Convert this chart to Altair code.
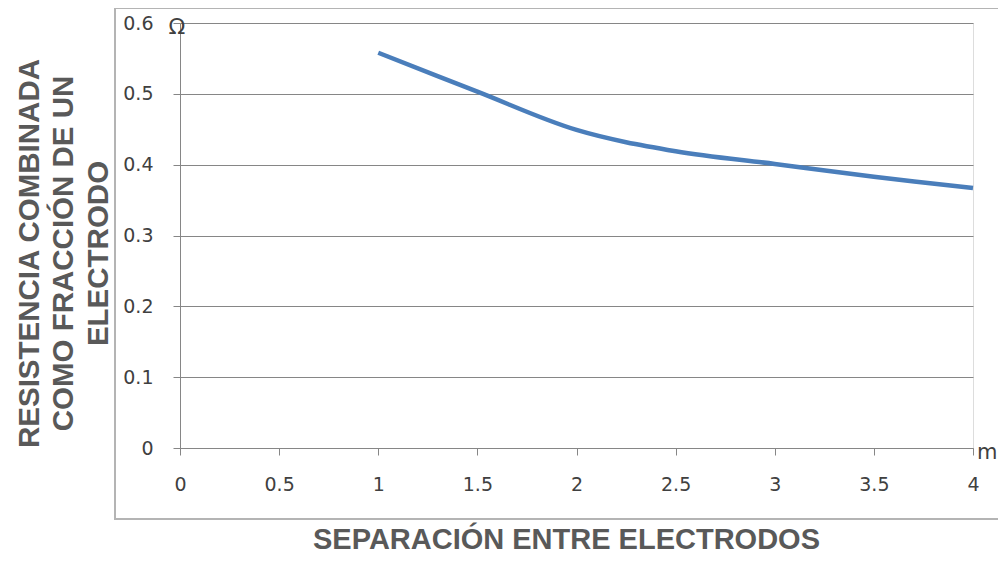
import altair as alt
import pandas as pd

separacion = [1, 1.5, 2, 2.5, 3, 3.5, 4]
resistencia = [0.558, 0.503, 0.449, 0.419, 0.401, 0.383, 0.367]
x_ticks = [0, 0.5, 1, 1.5, 2, 2.5, 3, 3.5, 4]
y_ticks = [0, 0.1, 0.2, 0.3, 0.4, 0.5, 0.6]

df = pd.DataFrame({"x": separacion, "y": resistencia})
one = pd.DataFrame({"k": [0]})

GRAY = "#868686"
TXT = "#404040"
TITLE = "#595959"

line = alt.Chart(df).mark_line(
    color="#4a7ebb", strokeWidth=4.5, interpolate="cardinal"
).encode(
    x=alt.X("x:Q", scale=alt.Scale(domain=[0, 4], nice=False),
            axis=alt.Axis(values=x_ticks, format="~g", grid=False,
                          domainColor=GRAY, tickColor=GRAY, tickSize=7,
                          labelFont="DejaVu Sans", labelFontSize=19,
                          labelColor=TXT, labelPadding=20,
                          labelFlush=False,
                          title="SEPARACIÓN ENTRE ELECTRODOS",
                          titleFont="Liberation Sans", titleFontSize=29,
                          titleFontWeight="bold", titleColor=TITLE,
                          titleX=386, titleY=100, titleAlign="center",
                          titleBaseline="alphabetic")),
    y=alt.Y("y:Q", scale=alt.Scale(domain=[0, 0.6], nice=False),
            axis=alt.Axis(values=y_ticks, format="~g", grid=True,
                          gridColor=GRAY, gridWidth=1,
                          domainColor=GRAY, tickColor=GRAY, tickSize=7,
                          labelFont="DejaVu Sans", labelFontSize=19,
                          labelColor=TXT, labelPadding=20,
                          labelFlush=False,
                          title=["RESISTENCIA COMBINADA", "COMO FRACCIÓN DE UN", "ELECTRODO"],
                          titleFont="Liberation Sans", titleFontSize=29.5,
                          titleFontWeight="bold", titleColor=TITLE,
                          titleAngle=270, titleX=-151, titleY=230,
                          titleAlign="center", titleBaseline="middle",
                          titleLineHeight=34.5)),
)

frame = alt.Chart(one).mark_rect(
    fill=None, stroke="#b4b4b4", strokeWidth=2
).encode(
    x=alt.value(-65), x2=alt.value(850), y=alt.value(-15), y2=alt.value(496)
)

omega = alt.Chart(one).mark_text(
    text="Ω", font="DejaVu Sans", fontSize=22, color=TXT,
    align="center", baseline="middle"
).encode(x=alt.value(-3), y=alt.value(4))

metro = alt.Chart(one).mark_text(
    text="m", font="DejaVu Sans", fontSize=21, color=TXT,
    align="left", baseline="middle"
).encode(x=alt.value(797), y=alt.value(430))

chart = alt.layer(frame, line, omega, metro).properties(
    width=793, height=425,
    autosize=alt.AutoSizeParams(type="none"),
    padding={"left": 172, "top": 15, "right": 25, "bottom": 105},
).configure_view(stroke=None).configure(background="white")

chart.save("out.html", embed_options={"renderer": "svg", "actions": False})
